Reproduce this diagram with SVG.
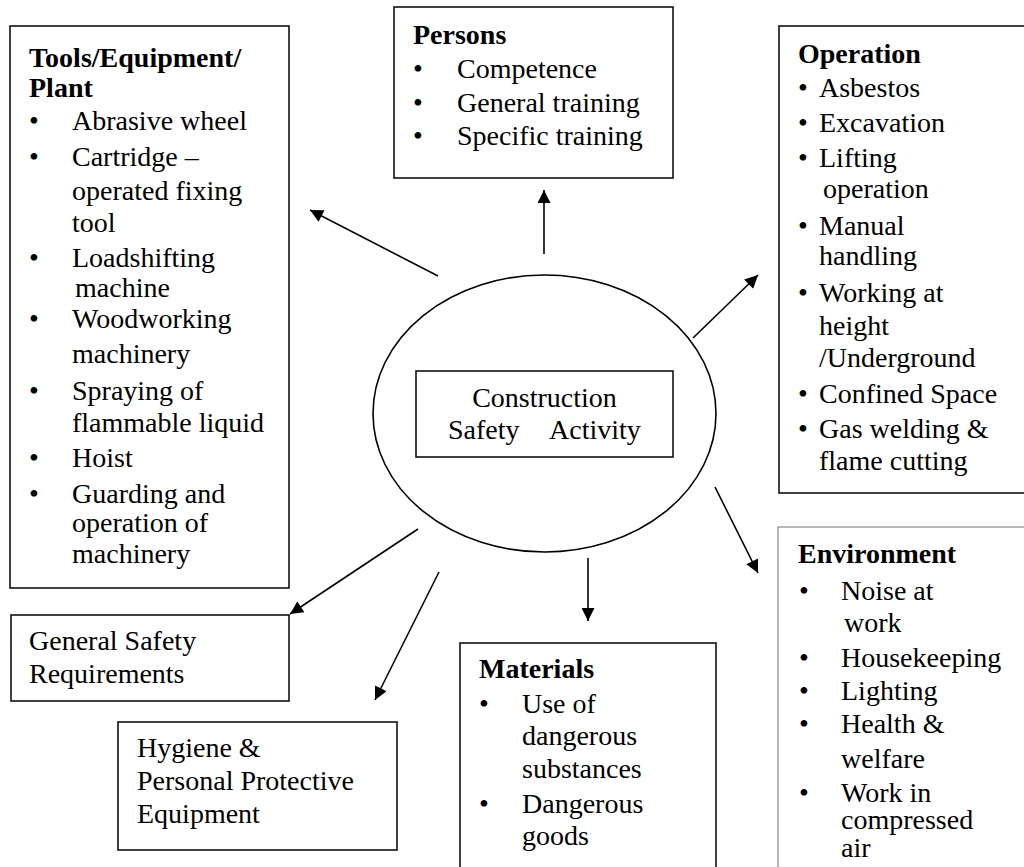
<svg xmlns="http://www.w3.org/2000/svg" width="1024" height="867" viewBox="0 0 1024 867">
<style>
text{font-family:"Liberation Serif","Times New Roman",serif;font-size:28px;fill:#000}
.b{font-weight:bold}
.box{fill:#fff;stroke:#111;stroke-width:1.6}
.gbox{fill:#fff;stroke:#888;stroke-width:1.2}
.con line{stroke:#000;stroke-width:1.6}
</style>
<defs>
<marker id="ah" viewBox="0 0 10 10" refX="10" refY="5" markerWidth="16" markerHeight="13" markerUnits="userSpaceOnUse" orient="auto">
<path d="M0,0 L10,5 L0,10 z" fill="#000"/>
</marker>
</defs>
<rect width="1024" height="867" fill="#fff"/>

<g id="tools">
<rect class="box" x="10" y="26" width="279" height="562"/>
<text class="b" x="29" y="67">Tools/Equipment/</text>
<text class="b" x="29" y="97">Plant</text>
<text x="29" y="130">•</text><text x="72" y="130">Abrasive wheel</text>
<text x="29" y="166">•</text><text x="72" y="166">Cartridge –</text>
<text x="72" y="200">operated fixing</text>
<text x="72" y="232">tool</text>
<text x="29" y="267">•</text><text x="72" y="267">Loadshifting</text>
<text x="75" y="297">machine</text>
<text x="29" y="328">•</text><text x="72" y="328">Woodworking</text>
<text x="72" y="363">machinery</text>
<text x="29" y="400">•</text><text x="72" y="400">Spraying of</text>
<text x="72" y="432">flammable liquid</text>
<text x="29" y="467">•</text><text x="72" y="467">Hoist</text>
<text x="29" y="503">•</text><text x="72" y="503">Guarding and</text>
<text x="72" y="532">operation of</text>
<text x="72" y="563">machinery</text>
</g>

<g id="persons">
<rect class="box" x="394" y="7" width="279" height="171"/>
<text class="b" x="413" y="44">Persons</text>
<text x="413" y="78">•</text><text x="457" y="78">Competence</text>
<text x="413" y="112">•</text><text x="457" y="112">General training</text>
<text x="413" y="145">•</text><text x="457" y="145">Specific training</text>
</g>

<g id="operation">
<rect class="box" x="779" y="26" width="260" height="467"/>
<text class="b" x="798" y="63">Operation</text>
<text x="798" y="97">•</text><text x="819" y="97">Asbestos</text>
<text x="798" y="132">•</text><text x="819" y="132">Excavation</text>
<text x="798" y="167">•</text><text x="819" y="167">Lifting</text>
<text x="823" y="198">operation</text>
<text x="798" y="235">•</text><text x="819" y="235">Manual</text>
<text x="819" y="265">handling</text>
<text x="798" y="302">•</text><text x="819" y="302">Working at</text>
<text x="819" y="335">height</text>
<text x="819" y="367">/Underground</text>
<text x="798" y="403">•</text><text x="819" y="403">Confined Space</text>
<text x="798" y="438">•</text><text x="819" y="438">Gas welding &amp;</text>
<text x="819" y="470">flame cutting</text>
</g>

<g id="center">
<ellipse cx="544.5" cy="413.5" rx="171.5" ry="138.5" fill="#fff" stroke="#000" stroke-width="1.6"/>
<rect class="box" x="416" y="371" width="257" height="86"/>
<text x="544.5" y="407" text-anchor="middle">Construction</text>
<text x="448" y="439">Safety</text>
<text x="549" y="439">Activity</text>
</g>

<g id="environment">
<rect class="gbox" x="778" y="527" width="260" height="350"/>
<text class="b" x="798" y="563">Environment</text>
<text x="799" y="600">•</text><text x="841" y="600">Noise at</text>
<text x="844" y="632">work</text>
<text x="799" y="667">•</text><text x="841" y="667">Housekeeping</text>
<text x="799" y="700">•</text><text x="841" y="700">Lighting</text>
<text x="799" y="733">•</text><text x="841" y="733">Health &amp;</text>
<text x="841" y="768">welfare</text>
<text x="799" y="802">•</text><text x="841" y="802">Work in</text>
<text x="841" y="829">compressed</text>
<text x="841" y="857">air</text>
</g>

<g id="materials">
<rect class="box" x="460" y="643" width="256" height="240"/>
<text class="b" x="479" y="678">Materials</text>
<text x="479" y="713">•</text><text x="522" y="713">Use of</text>
<text x="522" y="745">dangerous</text>
<text x="522" y="778">substances</text>
<text x="479" y="813">•</text><text x="522" y="813">Dangerous</text>
<text x="522" y="845">goods</text>
</g>

<g id="general">
<rect class="box" x="11" y="615" width="278" height="86"/>
<text x="29" y="650">General Safety</text>
<text x="29" y="683">Requirements</text>
</g>

<g id="hygiene">
<rect class="box" x="118" y="722" width="279" height="128"/>
<text x="137" y="757">Hygiene &amp;</text>
<text x="137" y="790">Personal Protective</text>
<text x="137" y="823">Equipment</text>
</g>

<g id="connectors" class="con">
<line x1="544" y1="254" x2="544" y2="190" marker-end="url(#ah)"/>
<line x1="438" y1="276" x2="310" y2="210" marker-end="url(#ah)"/>
<line x1="693" y1="338" x2="758" y2="275" marker-end="url(#ah)"/>
<line x1="715" y1="487" x2="758" y2="573" marker-end="url(#ah)"/>
<line x1="588" y1="558" x2="588" y2="621" marker-end="url(#ah)"/>
<line x1="439" y1="572" x2="375" y2="700" marker-end="url(#ah)"/>
<line x1="418" y1="529" x2="290" y2="614" marker-end="url(#ah)"/>
</g>
</svg>
